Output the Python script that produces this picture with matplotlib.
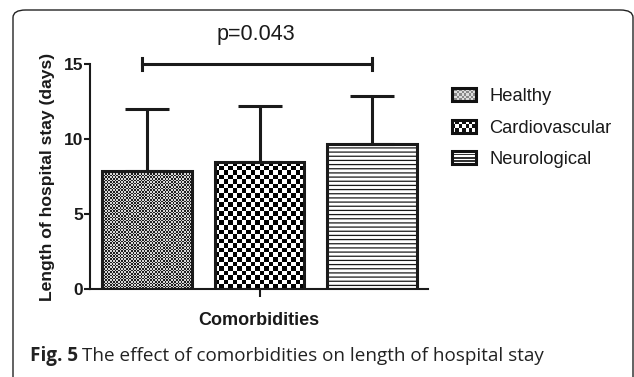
import numpy as np
import matplotlib
matplotlib.use("Agg")
import matplotlib.pyplot as plt
from matplotlib.patches import Rectangle, FancyBboxPatch, Patch
from matplotlib.legend_handler import HandlerBase

# ---- data ----
categories = ["Healthy", "Cardiovascular", "Neurological"]
means = [7.9, 8.5, 9.7]
sd_upper = [4.1, 3.7, 3.2]
y_ticks = [0, 5, 10, 15]
p_text = "p=0.043"
sig_level = 15.0
x_label = "Comorbidities"
y_label = "Length of hospital stay (days)"
caption_bold = "Fig. 5"
caption_rest = "The effect of comorbidities on length of hospital stay"

W, H, DPI = 634, 377, 100
fig = plt.figure(figsize=(W / DPI, H / DPI), dpi=DPI)
plt.rcParams['font.family'] = ['Liberation Sans', 'DejaVu Sans']
plt.rcParams['hatch.linewidth'] = 0.9
plt.rcParams['hatch.color'] = '#444444'

ax = fig.add_axes([90 / W, 1 - 289 / H, (428 - 90) / W, (289 - 64) / H])
x = np.arange(len(categories))
bars = ax.bar(x, means, width=0.8, facecolor='none', edgecolor='#1a1a1a',
              linewidth=2.2, zorder=3)
ax.errorbar(x, means, yerr=[np.zeros(len(means)), sd_upper], fmt='none',
            ecolor='#1a1a1a', elinewidth=2.2, capsize=16, capthick=2.2, zorder=2)
ax.set_xlim(-0.51, 2.5)
ax.set_ylim(0, 15)

# textures clipped to the bars
cell_px = [1.6, 4.6, None]
fig.canvas.draw()
for b, cp in zip(bars, cell_px):
    bx0, by0 = b.get_x(), b.get_y()
    bx1, by1 = bx0 + b.get_width(), by0 + b.get_height()
    (px0, py0), (px1, py1) = ax.transData.transform([(bx0, by0), (bx1, by1)])
    wpx, hpx = abs(px1 - px0), abs(py1 - py0)
    if cp is not None:
        nx = max(1, int(round(wpx / cp)))
        ny = max(1, int(round(hpx / cp)))
        ii, jj = np.meshgrid(np.arange(nx), np.arange(ny))
        pat = ((ii + jj) % 2).astype(float)
        if cp < 2:
            pat = 0.12 + 0.72 * pat
        im = ax.imshow(pat, extent=(bx0, bx1, by0, by1), cmap='gray', vmin=0, vmax=1,
                       interpolation='nearest', aspect='auto', zorder=1)
        im.set_clip_path(b)
    else:
        b.set_hatch('----')
ax.set_xlim(-0.51, 2.5)
ax.set_ylim(0, 15)
ax.set_aspect('auto')

for s in ['top', 'right']:
    ax.spines[s].set_visible(False)
for s in ['left', 'bottom']:
    ax.spines[s].set_linewidth(1.5)
    ax.spines[s].set_color('#1a1a1a')
ax.set_yticks(y_ticks)
ax.set_yticklabels([str(t) for t in y_ticks], fontsize=12.5, fontweight='bold')
ax.set_xticks([1])
ax.set_xticklabels([''])
ax.tick_params(axis='y', length=4, width=1.5, pad=1, colors='#1a1a1a')
ax.tick_params(axis='x', length=6, width=1.5, colors='#1a1a1a')
ax.set_xlabel(x_label, fontsize=13, fontweight='bold', labelpad=7, color='#1a1a1a')
ax.set_ylabel(y_label, fontsize=12.6, fontweight='bold', labelpad=6, color='#1a1a1a')

# significance bracket
ax.plot([x[0] - 0.05, x[2]], [sig_level, sig_level], color='#1a1a1a', lw=2.2,
        clip_on=False, zorder=4)
for xe in [x[0] - 0.05, x[2]]:
    ax.plot([xe, xe], [sig_level - 0.4, sig_level + 0.4], color='#1a1a1a', lw=2.2,
            clip_on=False, zorder=4)
ax.text((x[0] + x[2]) / 2 - 0.03, sig_level + 1.95, p_text, ha='center', va='center',
        fontsize=15.5, color='#1a1a1a', clip_on=False)


# legend with textured handles
class TexHandler(HandlerBase):
    def __init__(self, kind):
        super().__init__()
        self.kind = kind

    def create_artists(self, legend, orig_handle, xdescent, ydescent, width, height,
                       fontsize, trans):
        x0, y0 = -xdescent, -ydescent
        arts = []
        if self.kind == 'fine':
            arts.append(Rectangle((x0, y0), width, height, facecolor='#8a8a8a',
                                  edgecolor='none', transform=trans))
            nx, ny = 10, 5
            for i in range(nx):
                for j in range(ny):
                    if (i + j) % 2 == 0:
                        arts.append(Rectangle((x0 + i * width / nx, y0 + j * height / ny),
                                              width / nx, height / ny, facecolor='#dddddd',
                                              edgecolor='none', transform=trans))
        elif self.kind == 'coarse':
            arts.append(Rectangle((x0, y0), width, height, facecolor='#111111',
                                  edgecolor='none', transform=trans))
            nx, ny = 7, 3
            for i in range(nx):
                for j in range(ny):
                    if (i + j) % 2 == 0:
                        arts.append(Rectangle((x0 + i * width / nx, y0 + j * height / ny),
                                              width / nx, height / ny, facecolor='white',
                                              edgecolor='none', transform=trans))
        else:
            arts.append(Rectangle((x0, y0), width, height, facecolor='white',
                                  edgecolor='none', transform=trans))
            for k in range(1, 4):
                yy = y0 + k * height / 4
                arts.append(Rectangle((x0, yy - 0.5), width, 1.0, facecolor='#333333',
                                      edgecolor='none', transform=trans))
        arts.append(Rectangle((x0, y0), width, height, facecolor='none',
                              edgecolor='#111111', linewidth=2.2, transform=trans))
        return arts


handles = [Patch(label=c) for c in categories]
kinds = ['fine', 'coarse', 'lines']
leg = fig.legend(handles, categories, loc='upper left',
                 bbox_to_anchor=(452 / W, 1 - 88 / H), frameon=False,
                 fontsize=13.2, handlelength=1.3, handleheight=0.7,
                 handletextpad=0.75, labelspacing=0.8, borderpad=0, borderaxespad=0,
                 handler_map={h: TexHandler(k) for h, k in zip(handles, kinds)})
for t in leg.get_texts():
    t.set_color('#1a1a1a')

# frame and caption
frame = FancyBboxPatch((13 / W, -40 / H), (633 - 13) / W, (H - 10 + 40) / H,
                       boxstyle='round,pad=0,rounding_size=0.02',
                       transform=fig.transFigure, facecolor='none',
                       edgecolor='#222222', linewidth=1.0, clip_on=False)
fig.patches.append(frame)

t1 = fig.text(30 / W, 1 - 356 / H, caption_bold, fontsize=13.6, fontweight='bold',
              family=['Open Sans', 'DejaVu Sans'], va='center', ha='left', color='#222222')
fig.canvas.draw()
bb = t1.get_window_extent()
fig.text((bb.x1 + 4) / W, 1 - 356 / H, caption_rest, fontsize=13.6,
         family=['Open Sans', 'DejaVu Sans'], va='center', ha='left', color='#222222')

fig.savefig('out.png', dpi=DPI)
